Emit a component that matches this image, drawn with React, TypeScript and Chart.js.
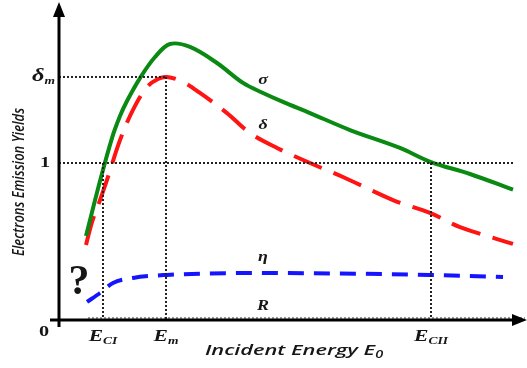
import React, { useEffect, useRef } from "react";
import { Chart, registerables } from "chart.js";

Chart.register(...registerables);

// Energy axis (arbitrary units) and yields
const sigmaX = [0.27, 0.41, 0.53, 0.61, 0.68, 0.81, 0.96, 1.11, 1.31, 1.58, 1.84, 2.04, 2.24, 2.51, 2.91, 3.41, 3.72, 4.11, 4.54];
const sigmaY = [0.535, 0.885, 1.159, 1.299, 1.395, 1.541, 1.675, 1.758, 1.739, 1.637, 1.51, 1.446, 1.389, 1.318, 1.21, 1.096, 1.006, 0.93, 0.83];

const deltaX = [0.27, 0.33, 0.41, 0.48, 0.61, 0.74, 0.88, 0.99, 1.08, 1.24, 1.41, 1.68, 1.91, 2.18, 2.51, 2.84, 3.34, 3.71, 4.01, 4.54];
const deltaY = [0.478, 0.624, 0.764, 0.892, 1.146, 1.338, 1.484, 1.535, 1.548, 1.516, 1.446, 1.318, 1.191, 1.096, 1.0, 0.911, 0.764, 0.682, 0.592, 0.485];

const etaX = [0.28, 0.41, 0.54, 0.74, 1.08, 2.01, 3.71, 4.44];
const etaY = [0.115, 0.172, 0.236, 0.268, 0.287, 0.299, 0.287, 0.274];

const rX = [0.29, 4.66];
const rY = [0.013, 0.013];

const markerNames = ["CI", "m", "CII"];
const markerX = [0.44, 1.07, 3.72];
const deltaMax = 1.548;
const unity = 1;
const xMax = 4.66;
const yMax = 2.0;

const curveLabels = ["σ", "δ", "η", "R"];
const curveLabelY = [1.53, 1.24, 0.4, 0.09];
const curveLabelX = 2.04;

const pts = (xs: number[], ys: number[]) => xs.map((x, i) => ({ x, y: ys[i] }));

const STRETCH = 1.35;

function subText(ctx: CanvasRenderingContext2D, main: string, sub: string, x: number, y: number, mainFont: string, subFont: string, align: "center" | "left" | "right", drop: number, sx = STRETCH) {
  ctx.font = mainFont;
  const w1 = ctx.measureText(main).width;
  ctx.font = subFont;
  const w2 = ctx.measureText(sub).width;
  const total = w1 + w2;
  let start = 0;
  if (align === "center") start = -total / 2;
  else if (align === "right") start = -total;
  ctx.save();
  ctx.translate(x, y);
  ctx.scale(sx, 1);
  ctx.textAlign = "left";
  ctx.textBaseline = "alphabetic";
  ctx.font = mainFont;
  ctx.fillText(main, start, 0);
  ctx.font = subFont;
  ctx.fillText(sub, start + w1, drop);
  ctx.restore();
}

function plainText(ctx: CanvasRenderingContext2D, t: string, x: number, y: number, font: string, sx = STRETCH) {
  ctx.save();
  ctx.translate(x, y);
  ctx.scale(sx, 1);
  ctx.font = font;
  ctx.textAlign = "center";
  ctx.textBaseline = "middle";
  ctx.fillText(t, 0, 0);
  ctx.restore();
}

const overlay = {
  id: "overlay",
  afterDraw(chart: any) {
    const ctx: CanvasRenderingContext2D = chart.ctx;
    const xs = chart.scales.x;
    const ys = chart.scales.y;
    const x0 = xs.getPixelForValue(0);
    const y0 = ys.getPixelForValue(0);
    const ink = "#161616";
    ctx.save();
    // axes
    ctx.strokeStyle = "#000";
    ctx.fillStyle = "#000";
    ctx.lineWidth = 3;
    ctx.setLineDash([]);
    ctx.beginPath();
    ctx.moveTo(x0, y0 + 7);
    ctx.lineTo(x0, 14);
    ctx.moveTo(x0 - 9, y0);
    ctx.lineTo(chart.width - 12, y0);
    ctx.stroke();
    ctx.beginPath();
    ctx.moveTo(x0, 2);
    ctx.lineTo(x0 - 6, 17);
    ctx.lineTo(x0 + 6, 17);
    ctx.closePath();
    ctx.fill();
    ctx.beginPath();
    ctx.moveTo(chart.width, y0);
    ctx.lineTo(chart.width - 15, y0 - 6);
    ctx.lineTo(chart.width - 15, y0 + 6);
    ctx.closePath();
    ctx.fill();

    ctx.fillStyle = ink;
    const serifBI = "italic bold 16px 'Liberation Serif', 'DejaVu Serif', serif";
    const subF = "italic bold 10px 'Liberation Serif', 'DejaVu Serif', serif";
    // y tick labels
    subText(ctx, "δ", "m", 55, ys.getPixelForValue(deltaMax) + 4, "italic bold 18px 'Liberation Serif', serif", subF, "right", 3);
    plainText(ctx, "1", 45, ys.getPixelForValue(unity), "bold 15px 'Liberation Serif', serif");
    plainText(ctx, "0", 44, y0 + 12, "bold 15px 'Liberation Serif', serif");
    // x markers
    markerNames.forEach((n, i) => {
      subText(ctx, "E", n, xs.getPixelForValue(markerX[i]), y0 + 21, serifBI, subF, "center", 3);
    });
    // curve labels
    curveLabels.forEach((l, i) => {
      plainText(ctx, l, xs.getPixelForValue(curveLabelX), ys.getPixelForValue(curveLabelY[i]), "italic bold 15px 'Liberation Serif', serif", 1.2);
    });
    // question mark
    ctx.font = "bold 42px 'Liberation Serif', serif";
    ctx.textAlign = "center";
    ctx.textBaseline = "alphabetic";
    ctx.fillText("?", 79, 294);
    // axis titles
    subText(ctx, "Incident Energy E", "0", 294, 355, "italic 600 15px 'Open Sans', sans-serif", "italic 600 10px 'Open Sans', sans-serif", "center", 3, 1.45);
    ctx.save();
    ctx.translate(24, 182);
    ctx.scale(1.3, 1);
    ctx.rotate(-Math.PI / 2);
    ctx.font = "italic 600 13px 'Open Sans', sans-serif";
    ctx.textAlign = "center";
    ctx.textBaseline = "alphabetic";
    ctx.fillText("Electrons Emission Yields", 0, 0);
    ctx.restore();
    ctx.restore();
  },
};

export default function App() {
  const ref = useRef<HTMLCanvasElement>(null);
  useEffect(() => {
    if (!ref.current) return;
    const dotted = { borderColor: "#222", borderWidth: 2, borderDash: [2, 2], pointRadius: 0, tension: 0, fill: false };
    const chart = new Chart(ref.current, {
      type: "line",
      data: {
        datasets: [
          { label: "δm level", data: [{ x: 0, y: deltaMax }, { x: markerX[1], y: deltaMax }], ...dotted },
          { label: "unity", data: [{ x: 0, y: unity }, { x: 4.55, y: unity }], ...dotted },
          ...markerX.map((m, i) => ({ label: "E" + markerNames[i], data: [{ x: m, y: i === 1 ? deltaMax : unity }, { x: m, y: 0 }], ...dotted })),
          { label: "R", data: pts(rX, rY), borderColor: "#9a9a9a", borderWidth: 2, borderDash: [2, 2], pointRadius: 0, tension: 0 },
          { label: "σ", data: pts(sigmaX, sigmaY), borderColor: "#0a8a12", borderWidth: 4, pointRadius: 0, tension: 0.35 },
          { label: "δ", data: pts(deltaX, deltaY), borderColor: "#ff1414", borderWidth: 4, borderDash: [30, 13], pointRadius: 0, tension: 0.35 },
          { label: "η", data: pts(etaX, etaY), borderColor: "#1414ff", borderWidth: 4, borderDash: [16, 10], pointRadius: 0, tension: 0.4, cubicInterpolationMode: "monotone" },
        ] as any,
      },
      options: {
        responsive: false,
        animation: false,
        layout: { padding: { left: 59, right: 2, top: 6, bottom: 48 } },
        scales: {
          x: { type: "linear", min: 0, max: xMax, display: false },
          y: { type: "linear", min: 0, max: yMax, display: false },
        },
        plugins: { legend: { display: false }, tooltip: { enabled: false } },
      },
      plugins: [overlay],
    });
    return () => chart.destroy();
  }, []);
  return (
    <div style={{ position: "fixed", left: 0, top: 0, width: 527, height: 368, background: "#fff" }}>
      <canvas ref={ref} width={527} height={368} />
    </div>
  );
}
